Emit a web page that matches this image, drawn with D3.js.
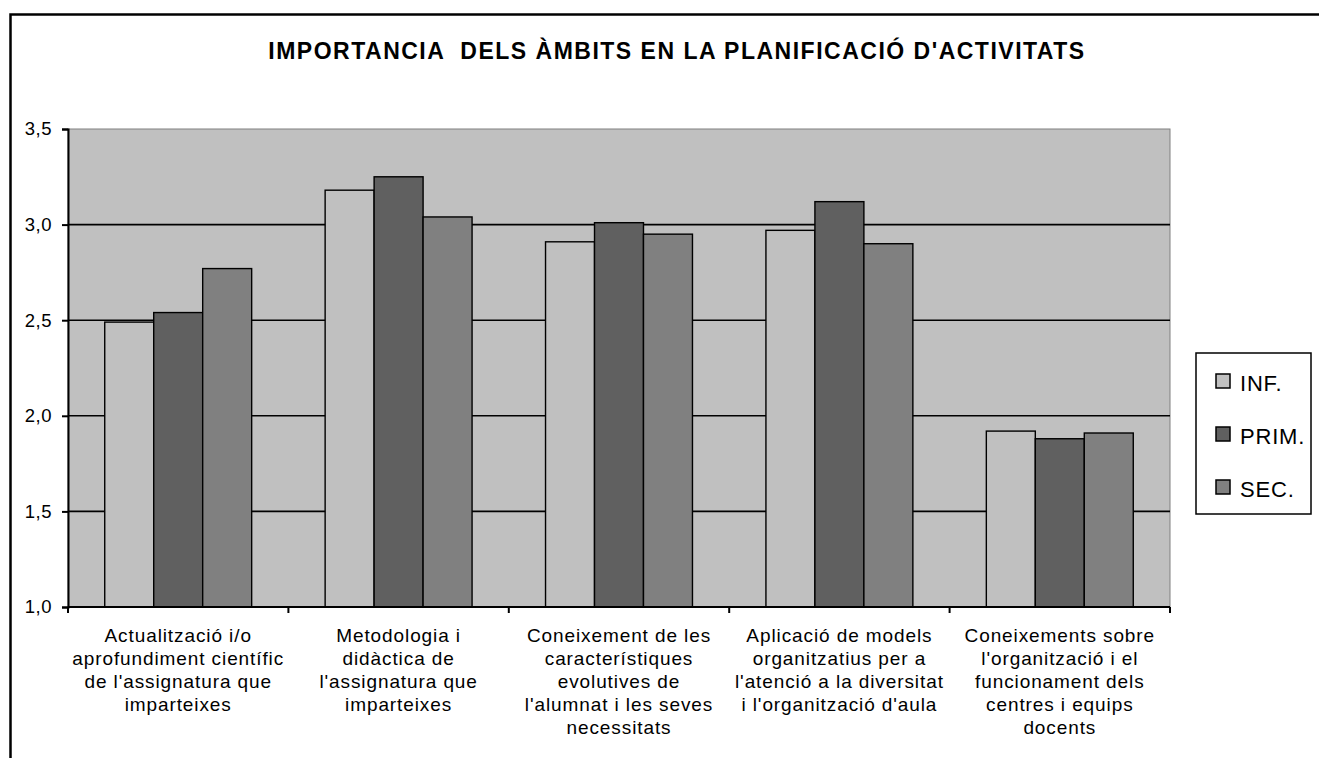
<!DOCTYPE html>
<html>
<head>
<meta charset="utf-8">
<script src="https://cdn.jsdelivr.net/npm/d3@7"></script>
<style>
  body { margin: 0; background: #fff; }
  svg text { font-family: "Liberation Sans", Arial, sans-serif; fill: #000; }
</style>
</head>
<body>
<svg id="chart" width="1319" height="758"></svg>
<script>
const title = "IMPORTANCIA  DELS ÀMBITS EN LA PLANIFICACIÓ D'ACTIVITATS";
const categories = [
  ["Actualització i/o", "aprofundiment científic", "de l'assignatura que", "imparteixes"],
  ["Metodologia i", "didàctica de", "l'assignatura que", "imparteixes"],
  ["Coneixement de les", "característiques", "evolutives de", "l'alumnat i les seves", "necessitats"],
  ["Aplicació de models", "organitzatius per a", "l'atenció a la diversitat", "i l'organització d'aula"],
  ["Coneixements sobre", "l'organització i el", "funcionament dels", "centres i equips", "docents"]
];
const seriesNames = ["INF.", "PRIM.", "SEC."];
const infValues = [2.49, 3.18, 2.91, 2.97, 1.92];
const primValues = [2.54, 3.25, 3.01, 3.12, 1.88];
const secValues = [2.77, 3.04, 2.95, 2.90, 1.91];
const yTicks = [1.0, 1.5, 2.0, 2.5, 3.0, 3.5];
const colors = ["#c0c0c0", "#606060", "#808080"];

const svg = d3.select("#chart");
const plot = { left: 68, right: 1170, top: 129, bottom: 607 };

// outer frame of the chart (runs off the right / bottom of the picture)
svg.append("rect")
  .attr("x", 10.5).attr("y", 14.5)
  .attr("width", 1400).attr("height", 800)
  .attr("fill", "#fff").attr("stroke", "#000").attr("stroke-width", 2.5);

svg.append("text")
  .attr("x", 677).attr("y", 59)
  .attr("text-anchor", "middle")
  .attr("font-size", "23px").attr("font-weight", "bold")
  .attr("letter-spacing", "1.5px")
  .style("white-space", "pre")
  .text(title);

const idx = d3.range(categories.length);
const x0 = d3.scaleBand().domain(idx).range([plot.left, plot.right]).padding(0);
const x1 = d3.scaleBand().domain(seriesNames).range([0, x0.bandwidth()])
  .paddingInner(0).paddingOuter(0.75);
const y = d3.scaleLinear().domain([1, 3.5]).range([plot.bottom, plot.top]);

svg.append("rect")
  .attr("x", plot.left).attr("y", plot.top)
  .attr("width", plot.right - plot.left).attr("height", plot.bottom - plot.top)
  .attr("fill", "#c0c0c0").attr("stroke", "#808080").attr("stroke-width", 1);

// gridlines
svg.append("g").selectAll("line")
  .data(yTicks.filter(d => d > 1 && d < 3.5))
  .join("line")
  .attr("x1", plot.left).attr("x2", plot.right)
  .attr("y1", d => y(d)).attr("y2", d => y(d))
  .attr("stroke", "#000").attr("stroke-width", 1.6);

const table = idx.map(i => [infValues[i], primValues[i], secValues[i]]);

svg.append("g").selectAll("g")
  .data(table)
  .join("g")
  .attr("transform", (d, i) => `translate(${x0(i)},0)`)
  .selectAll("rect")
  .data(d => d.map((v, j) => ({ v, j })))
  .join("rect")
  .attr("x", d => x1(seriesNames[d.j]))
  .attr("y", d => y(d.v))
  .attr("width", x1.bandwidth())
  .attr("height", d => y(1) - y(d.v))
  .attr("fill", d => colors[d.j])
  .attr("stroke", "#000").attr("stroke-width", 1.4);

// y axis
const yAxis = svg.append("g")
  .attr("transform", `translate(${plot.left},0)`)
  .call(d3.axisLeft(y).tickValues(yTicks).tickSize(6).tickPadding(10)
    .tickFormat(d => d3.format(".1f")(d).replace(".", ",")));
yAxis.select(".domain").attr("stroke", "#000").attr("stroke-width", 2);
yAxis.selectAll(".tick line").attr("stroke", "#000").attr("stroke-width", 2);
yAxis.selectAll(".tick text")
  .attr("font-size", "18.5px").attr("letter-spacing", "0.5px")
  .attr("font-family", "Liberation Sans, Arial, sans-serif");

// x axis line and ticks at category boundaries
const xAxis = svg.append("g");
xAxis.append("line")
  .attr("x1", plot.left).attr("x2", plot.right)
  .attr("y1", plot.bottom).attr("y2", plot.bottom)
  .attr("stroke", "#000").attr("stroke-width", 2);
xAxis.selectAll(".xtick")
  .data(idx.concat([categories.length]))
  .join("line")
  .attr("class", "xtick")
  .attr("x1", i => i < categories.length ? x0(i) : plot.right)
  .attr("x2", i => i < categories.length ? x0(i) : plot.right)
  .attr("y1", plot.bottom).attr("y2", plot.bottom + 6)
  .attr("stroke", "#000").attr("stroke-width", 2);

xAxis.selectAll(".xlabel")
  .data(categories)
  .join("text")
  .attr("class", "xlabel")
  .attr("text-anchor", "middle")
  .attr("font-size", "19px").attr("letter-spacing", "0.9px")
  .attr("transform", (d, i) => `translate(${x0(i) + x0.bandwidth() / 2},642)`)
  .selectAll("tspan")
  .data(d => d)
  .join("tspan")
  .attr("x", 0)
  .attr("y", (d, k) => k * 23)
  .text(d => d);

// legend
const legend = svg.append("g");
legend.append("rect")
  .attr("x", 1196).attr("y", 353).attr("width", 115).attr("height", 161)
  .attr("fill", "#fff").attr("stroke", "#000").attr("stroke-width", 1.5);
const items = legend.selectAll(".item")
  .data(seriesNames)
  .join("g")
  .attr("class", "item")
  .attr("transform", (d, i) => `translate(1216,${391 + i * 53})`);
items.append("rect")
  .attr("y", -17)
  .attr("width", 14).attr("height", 14)
  .attr("fill", (d, i) => colors[i]).attr("stroke", "#000").attr("stroke-width", 1.5);
items.append("text")
  .attr("x", 24).attr("y", 0)
  .attr("font-size", "22px").attr("letter-spacing", "0.8px")
  .text(d => d);
</script>
</body>
</html>
